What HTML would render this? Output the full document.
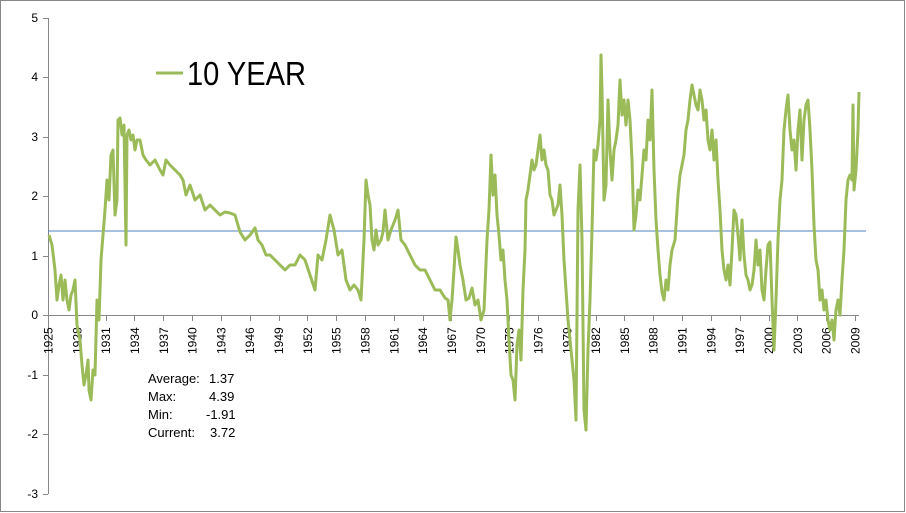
<!DOCTYPE html>
<html><head><meta charset="utf-8"><style>html,body{margin:0;padding:0;background:#fff}svg{display:block}</style></head>
<body>
<svg width="906" height="513" xmlns="http://www.w3.org/2000/svg" font-family="Liberation Sans, sans-serif">
<rect x="0.5" y="0.5" width="904" height="511" fill="#fff" stroke="#888"/>
<g stroke="#888" stroke-width="1">
<line x1="48.5" y1="18" x2="48.5" y2="494"/>
<line x1="43" y1="18.5" x2="48" y2="18.5"/><line x1="43" y1="77.5" x2="48" y2="77.5"/><line x1="43" y1="137.5" x2="48" y2="137.5"/><line x1="43" y1="196.5" x2="48" y2="196.5"/><line x1="43" y1="256.5" x2="48" y2="256.5"/><line x1="43" y1="315.5" x2="48" y2="315.5"/><line x1="43" y1="375.5" x2="48" y2="375.5"/><line x1="43" y1="434.5" x2="48" y2="434.5"/><line x1="43" y1="494.5" x2="48" y2="494.5"/>
<line x1="48" y1="315.5" x2="859" y2="315.5"/>
</g>
<g stroke="#888" id="xt"></g>
<g font-size="12" fill="#000" text-anchor="end">
<text x="38" y="22">5</text><text x="38" y="81">4</text><text x="38" y="141">3</text><text x="38" y="200">2</text><text x="38" y="260">1</text><text x="38" y="319">0</text><text x="38" y="379">-1</text><text x="38" y="438">-2</text><text x="38" y="498">-3</text>
</g>
<g id="xl" font-size="12" fill="#000"></g>
<line x1="48" y1="231" x2="866" y2="231" stroke="#4f81bd" stroke-width="1"/>
<polyline fill="none" stroke="#9bbb59" stroke-width="3" stroke-linejoin="round" points="49,235 52,245 55,270 57,300 59,285 61,275 63,300 65,280 67,300 69,310 71,295 73,290 75,280 77,325 80,340 82,365 84,385 86,375 88,360 89,390 91,400 93,370 95,375 97,300 99,320 101,260 103,235 105,210 107,180 109,200 111,155 113,150 115,215 117,200 118,120 120,118 122,135 124,125 126,245 127,135 129,130 131,140 133,135 135,150 137,140 140,140 143,155 146,160 150,165 155,160 160,170 163,175 166,160 170,165 175,170 180,175 183,180 186,195 190,185 195,200 200,195 205,210 210,205 215,210 220,215 225,212 230,213 235,215 240,232 245,240 250,235 255,228 258,240 262,245 266,255 270,255 275,260 280,265 285,270 290,265 295,265 300,255 305,260 310,275 315,290 318,255 322,260 326,240 330,215 334,230 338,255 342,250 346,280 350,290 354,285 358,290 361,300 364,240 366,180 368,195 370,205 372,240 374,250 376,230 378,245 381,240 383,232 385,210 388,240 391,230 395,220 398,210 401,240 405,245 410,255 415,265 420,270 425,270 430,280 435,290 440,290 445,298 448,300 450,320 452,300 454,270 456,237 458,250 460,265 463,280 466,300 469,298 472,288 475,305 478,300 481,320 484,310 487,240 489,210 491,155 493,195 495,175 497,215 499,235 501,260 503,250 505,280 507,300 509,340 511,375 513,380 515,400 517,345 519,330 521,360 523,290 525,250 526,200 528,190 530,175 532,160 534,170 536,165 538,150 540,135 542,160 544,150 546,165 548,170 550,195 552,200 554,215 556,210 558,205 560,185 562,215 564,260 566,290 568,320 570,340 572,360 574,380 576,420 578,210 580,165 582,240 584,410 586,430 588,350 590,300 592,230 594,150 596,160 598,145 600,120 601,55 602,90 604,200 606,185 608,100 610,150 612,180 614,150 616,140 618,125 620,80 622,115 624,100 626,125 628,100 630,120 632,160 634,230 636,215 638,190 640,200 642,175 644,150 646,160 648,120 650,140 652,90 654,170 656,220 658,250 660,275 662,292 664,300 666,280 668,290 670,265 672,250 675,240 678,195 680,175 682,165 684,155 686,130 688,120 690,100 692,85 694,95 696,105 698,110 700,90 702,100 704,120 706,110 708,140 710,150 712,130 714,160 716,140 718,180 720,210 722,250 724,270 726,280 728,265 730,285 732,250 734,210 736,215 738,235 740,260 742,220 744,255 746,275 748,280 750,290 752,285 754,270 756,240 758,265 760,250 762,290 764,300 766,270 768,245 770,242 772,300 774,350 776,300 778,240 780,200 782,180 784,130 786,110 788,95 790,130 792,150 794,140 796,170 798,130 800,110 802,160 804,120 806,105 808,100 810,130 812,170 814,225 816,260 818,270 820,300 822,290 824,310 826,300 828,320 830,330 832,320 834,340 836,310 838,300 840,315 842,280 844,250 846,200 848,180 850,175 852,180 853,105 854,190 856,170 858,130 859,92"/>
<line x1="156" y1="73" x2="183" y2="73" stroke="#9bbb59" stroke-width="3"/>
<text x="187" y="85" font-size="33" textLength="119" lengthAdjust="spacingAndGlyphs" fill="#000">10 YEAR</text>
<g font-size="13" fill="#000">
<text x="148" y="383">Average:</text><text x="209" y="383">1.37</text>
<text x="148" y="401">Max:</text><text x="209" y="401">4.39</text>
<text x="148" y="419">Min:</text><text x="206" y="419">-1.91</text>
<text x="148" y="437">Current:</text><text x="210" y="437">3.72</text>
</g>
<script>
var t=document.getElementById('xt'),l=document.getElementById('xl'),ns='http://www.w3.org/2000/svg';
for(var k=0;k<=28;k++){var x=48+k*28.82,xr=Math.round(x)+0.5;
var ln=document.createElementNS(ns,'line');ln.setAttribute('x1',xr);ln.setAttribute('x2',xr);ln.setAttribute('y1',315);ln.setAttribute('y2',321);t.appendChild(ln);
var tx=document.createElementNS(ns,'text');tx.setAttribute('transform','translate('+(x+4.5)+',354) rotate(-90)');tx.textContent=1925+3*k;l.appendChild(tx);}
</script>
</svg>
</body></html>
